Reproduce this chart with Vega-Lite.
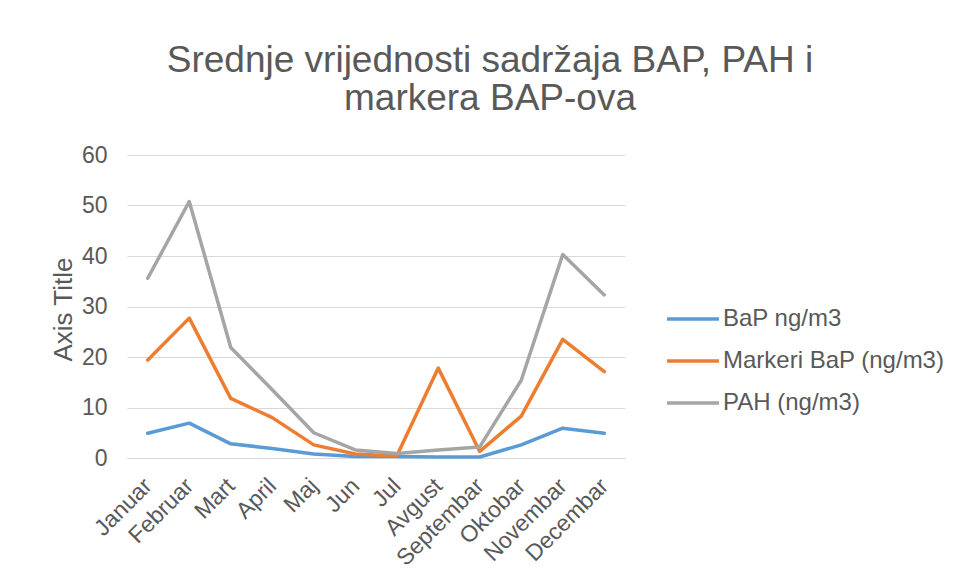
{
  "$schema": "https://vega.github.io/schema/vega-lite/v6.json",
  "width": 498,
  "height": 303,
  "autosize": "none",
  "padding": {"left": 127, "top": 155, "right": 333, "bottom": 128},
  "background": "white",
  "title": {
    "text": ["Srednje vrijednosti sadržaja BAP, PAH i", "markera BAP-ova"],
    "font": "Liberation Sans",
    "fontSize": 37,
    "fontWeight": "normal",
    "color": "#595959",
    "anchor": "middle",
    "dx": 114,
    "offset": 26,
    "lineHeight": 38
  },
  "data": {
    "values": [
      {"month": "Januar", "series": "BaP ng/m3", "value": 4.9},
      {"month": "Februar", "series": "BaP ng/m3", "value": 6.9},
      {"month": "Mart", "series": "BaP ng/m3", "value": 2.8},
      {"month": "April", "series": "BaP ng/m3", "value": 1.9},
      {"month": "Maj", "series": "BaP ng/m3", "value": 0.8},
      {"month": "Jun", "series": "BaP ng/m3", "value": 0.3},
      {"month": "Jul", "series": "BaP ng/m3", "value": 0.3},
      {"month": "Avgust", "series": "BaP ng/m3", "value": 0.2},
      {"month": "Septembar", "series": "BaP ng/m3", "value": 0.2},
      {"month": "Oktobar", "series": "BaP ng/m3", "value": 2.6},
      {"month": "Novembar", "series": "BaP ng/m3", "value": 5.9},
      {"month": "Decembar", "series": "BaP ng/m3", "value": 4.9},
      {"month": "Januar", "series": "Markeri BaP (ng/m3)", "value": 19.4},
      {"month": "Februar", "series": "Markeri BaP (ng/m3)", "value": 27.7},
      {"month": "Mart", "series": "Markeri BaP (ng/m3)", "value": 11.8},
      {"month": "April", "series": "Markeri BaP (ng/m3)", "value": 8.0},
      {"month": "Maj", "series": "Markeri BaP (ng/m3)", "value": 2.6},
      {"month": "Jun", "series": "Markeri BaP (ng/m3)", "value": 0.8},
      {"month": "Jul", "series": "Markeri BaP (ng/m3)", "value": 0.4},
      {"month": "Avgust", "series": "Markeri BaP (ng/m3)", "value": 17.8},
      {"month": "Septembar", "series": "Markeri BaP (ng/m3)", "value": 1.3},
      {"month": "Oktobar", "series": "Markeri BaP (ng/m3)", "value": 8.3},
      {"month": "Novembar", "series": "Markeri BaP (ng/m3)", "value": 23.5},
      {"month": "Decembar", "series": "Markeri BaP (ng/m3)", "value": 17.1},
      {"month": "Januar", "series": "PAH (ng/m3)", "value": 35.6},
      {"month": "Februar", "series": "PAH (ng/m3)", "value": 50.8},
      {"month": "Mart", "series": "PAH (ng/m3)", "value": 21.9},
      {"month": "April", "series": "PAH (ng/m3)", "value": 13.5},
      {"month": "Maj", "series": "PAH (ng/m3)", "value": 5.0},
      {"month": "Jun", "series": "PAH (ng/m3)", "value": 1.6},
      {"month": "Jul", "series": "PAH (ng/m3)", "value": 0.9},
      {"month": "Avgust", "series": "PAH (ng/m3)", "value": 1.6},
      {"month": "Septembar", "series": "PAH (ng/m3)", "value": 2.2},
      {"month": "Oktobar", "series": "PAH (ng/m3)", "value": 15.4},
      {"month": "Novembar", "series": "PAH (ng/m3)", "value": 40.3},
      {"month": "Decembar", "series": "PAH (ng/m3)", "value": 32.3}
    ]
  },
  "mark": {"type": "line", "strokeWidth": 3.5, "strokeJoin": "round", "strokeCap": "round"},
  "encoding": {
    "x": {
      "field": "month",
      "type": "nominal",
      "sort": null,
      "scale": {"type": "point", "padding": 0.5},
      "axis": {
        "title": null,
        "labelAngle": -45,
        "labelAlign": "right",
        "labelBaseline": "middle",
        "labelFont": "Liberation Sans",
        "labelFontSize": 23,
        "labelColor": "#595959",
        "labelPadding": 24,
        "labelOverlap": false,
        "labelLimit": 300,
        "domain": true,
        "domainColor": "#d9d9d9",
        "ticks": false,
        "grid": false
      }
    },
    "y": {
      "field": "value",
      "type": "quantitative",
      "scale": {"domain": [0, 60], "nice": false},
      "axis": {
        "title": "Axis Title",
        "titleFont": "Liberation Sans",
        "titleFontSize": 26,
        "titleFontWeight": "normal",
        "titleColor": "#595959",
        "titlePadding": 5,
        "titleY": 154,
        "values": [0, 10, 20, 30, 40, 50, 60],
        "labelFont": "Liberation Sans",
        "labelFontSize": 23,
        "labelColor": "#595959",
        "labelPadding": 20,
        "domain": false,
        "ticks": false,
        "grid": true,
        "gridColor": "#d9d9d9",
        "gridWidth": 1
      }
    },
    "color": {
      "field": "series",
      "type": "nominal",
      "scale": {
        "domain": ["BaP ng/m3", "Markeri BaP (ng/m3)", "PAH (ng/m3)"],
        "range": ["#5B9BD5", "#ED7D31", "#A5A5A5"]
      },
      "legend": {
        "title": null,
        "orient": "none",
        "legendX": 538,
        "legendY": 136,
        "symbolType": "stroke",
        "symbolSize": 2700,
        "symbolStrokeWidth": 3.5,
        "labelFont": "Liberation Sans",
        "labelFontSize": 24,
        "labelColor": "#595959",
        "labelOffset": 2,
        "labelLimit": 400,
        "rowPadding": 2
      }
    }
  },
  "config": {
    "view": {"stroke": null}
  }
}
